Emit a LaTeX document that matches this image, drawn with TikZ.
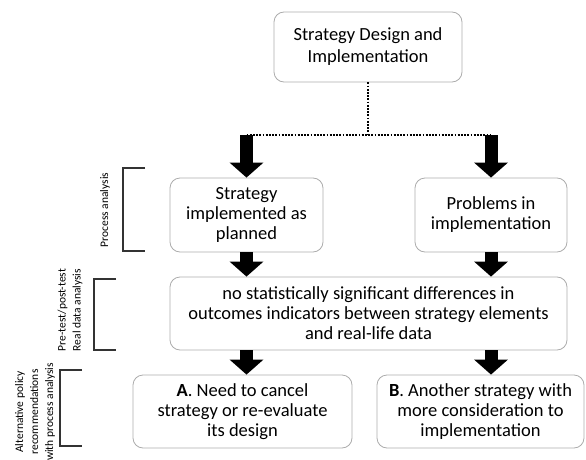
\documentclass[tikz,border=0pt]{standalone}
\usepackage{fontspec}
\setmainfont{Carlito}
\usetikzlibrary{arrows.meta}

\begin{document}
\begin{tikzpicture}[x=1pt,y=-1pt,
    box/.style={draw=gray!65,line width=0.8pt,rounded corners=10pt,align=center,inner sep=0pt,
                font=\fontsize{18.5}{20}\selectfont},
    blk/.style={line width=13pt,-{Triangle[width=33pt,length=15pt]}},
    dots/.style={line width=1.8pt,dash pattern=on 1.8pt off 1.4pt},
    brk/.style={line width=1.1pt,black!80},
    side/.style={rotate=90,align=center,font=\fontsize{11.5}{15}\selectfont}]
    \useasboundingbox (0,0) rectangle (586,460);
    \node[box,minimum width=188pt,minimum height=70pt] (design) at (368,47) {Strategy Design and\\[2pt]Implementation};
    \node[box,minimum width=153pt,minimum height=74pt] (planned) at (246.5,215) {Strategy\\implemented as\\planned};
    \node[box,minimum width=152pt,minimum height=74pt] (problems) at (491,215) {Problems in\\implementation};
    \node[box,minimum width=397pt,minimum height=73pt] (nodiff) at (368.5,313.5) {no statistically significant differences in\\outcomes indicators between strategy elements\\and real-life data};
    \node[box,minimum width=219pt,minimum height=73pt] (cancel) at (242.5,411.5) {\textbf{A}. Need to cancel\\strategy or re-evaluate\\its design};
    \node[box,minimum width=207pt,minimum height=73pt] (other) at (480.5,411.5) {\textbf{B}. Another strategy with\\more consideration to\\implementation};
    % dotted split under the top box
    \coordinate (fork) at (368,135);
    \draw[dots] (design.south) -- (fork);
    \draw[dots] (fork -| planned) -- (fork -| problems);
    \draw[blk] (fork -| planned) -- (planned.north);
    \draw[blk] (fork -| problems) -- (problems.north);
    \draw[blk] (planned.south) -- (planned.south |- nodiff.north);
    \draw[blk] (problems.south) -- (problems.south |- nodiff.north);
    \draw[blk] (planned.south |- nodiff.south) -- (planned.south |- cancel.north);
    \draw[blk] (problems.south |- nodiff.south) -- (problems.south |- other.north);
    % brackets on the left: x / top / bottom
    \foreach \x/\t/\b in {123/168/251, 94/279/350, 60/370/446}
        \draw[brk] (\x+22,\t) -- (\x,\t) -- (\x,\b) -- (\x+22,\b);
    \node[side] (proc) at (105,210) {Process analysis};
    \node[side] (prepost) at (70,310) {Pre-test/post-test\\Real data analysis};
    \node[side] (altpol) at (35,412) {Alternative policy\\recommendations\\with process analysis};
\end{tikzpicture}
\end{document}
